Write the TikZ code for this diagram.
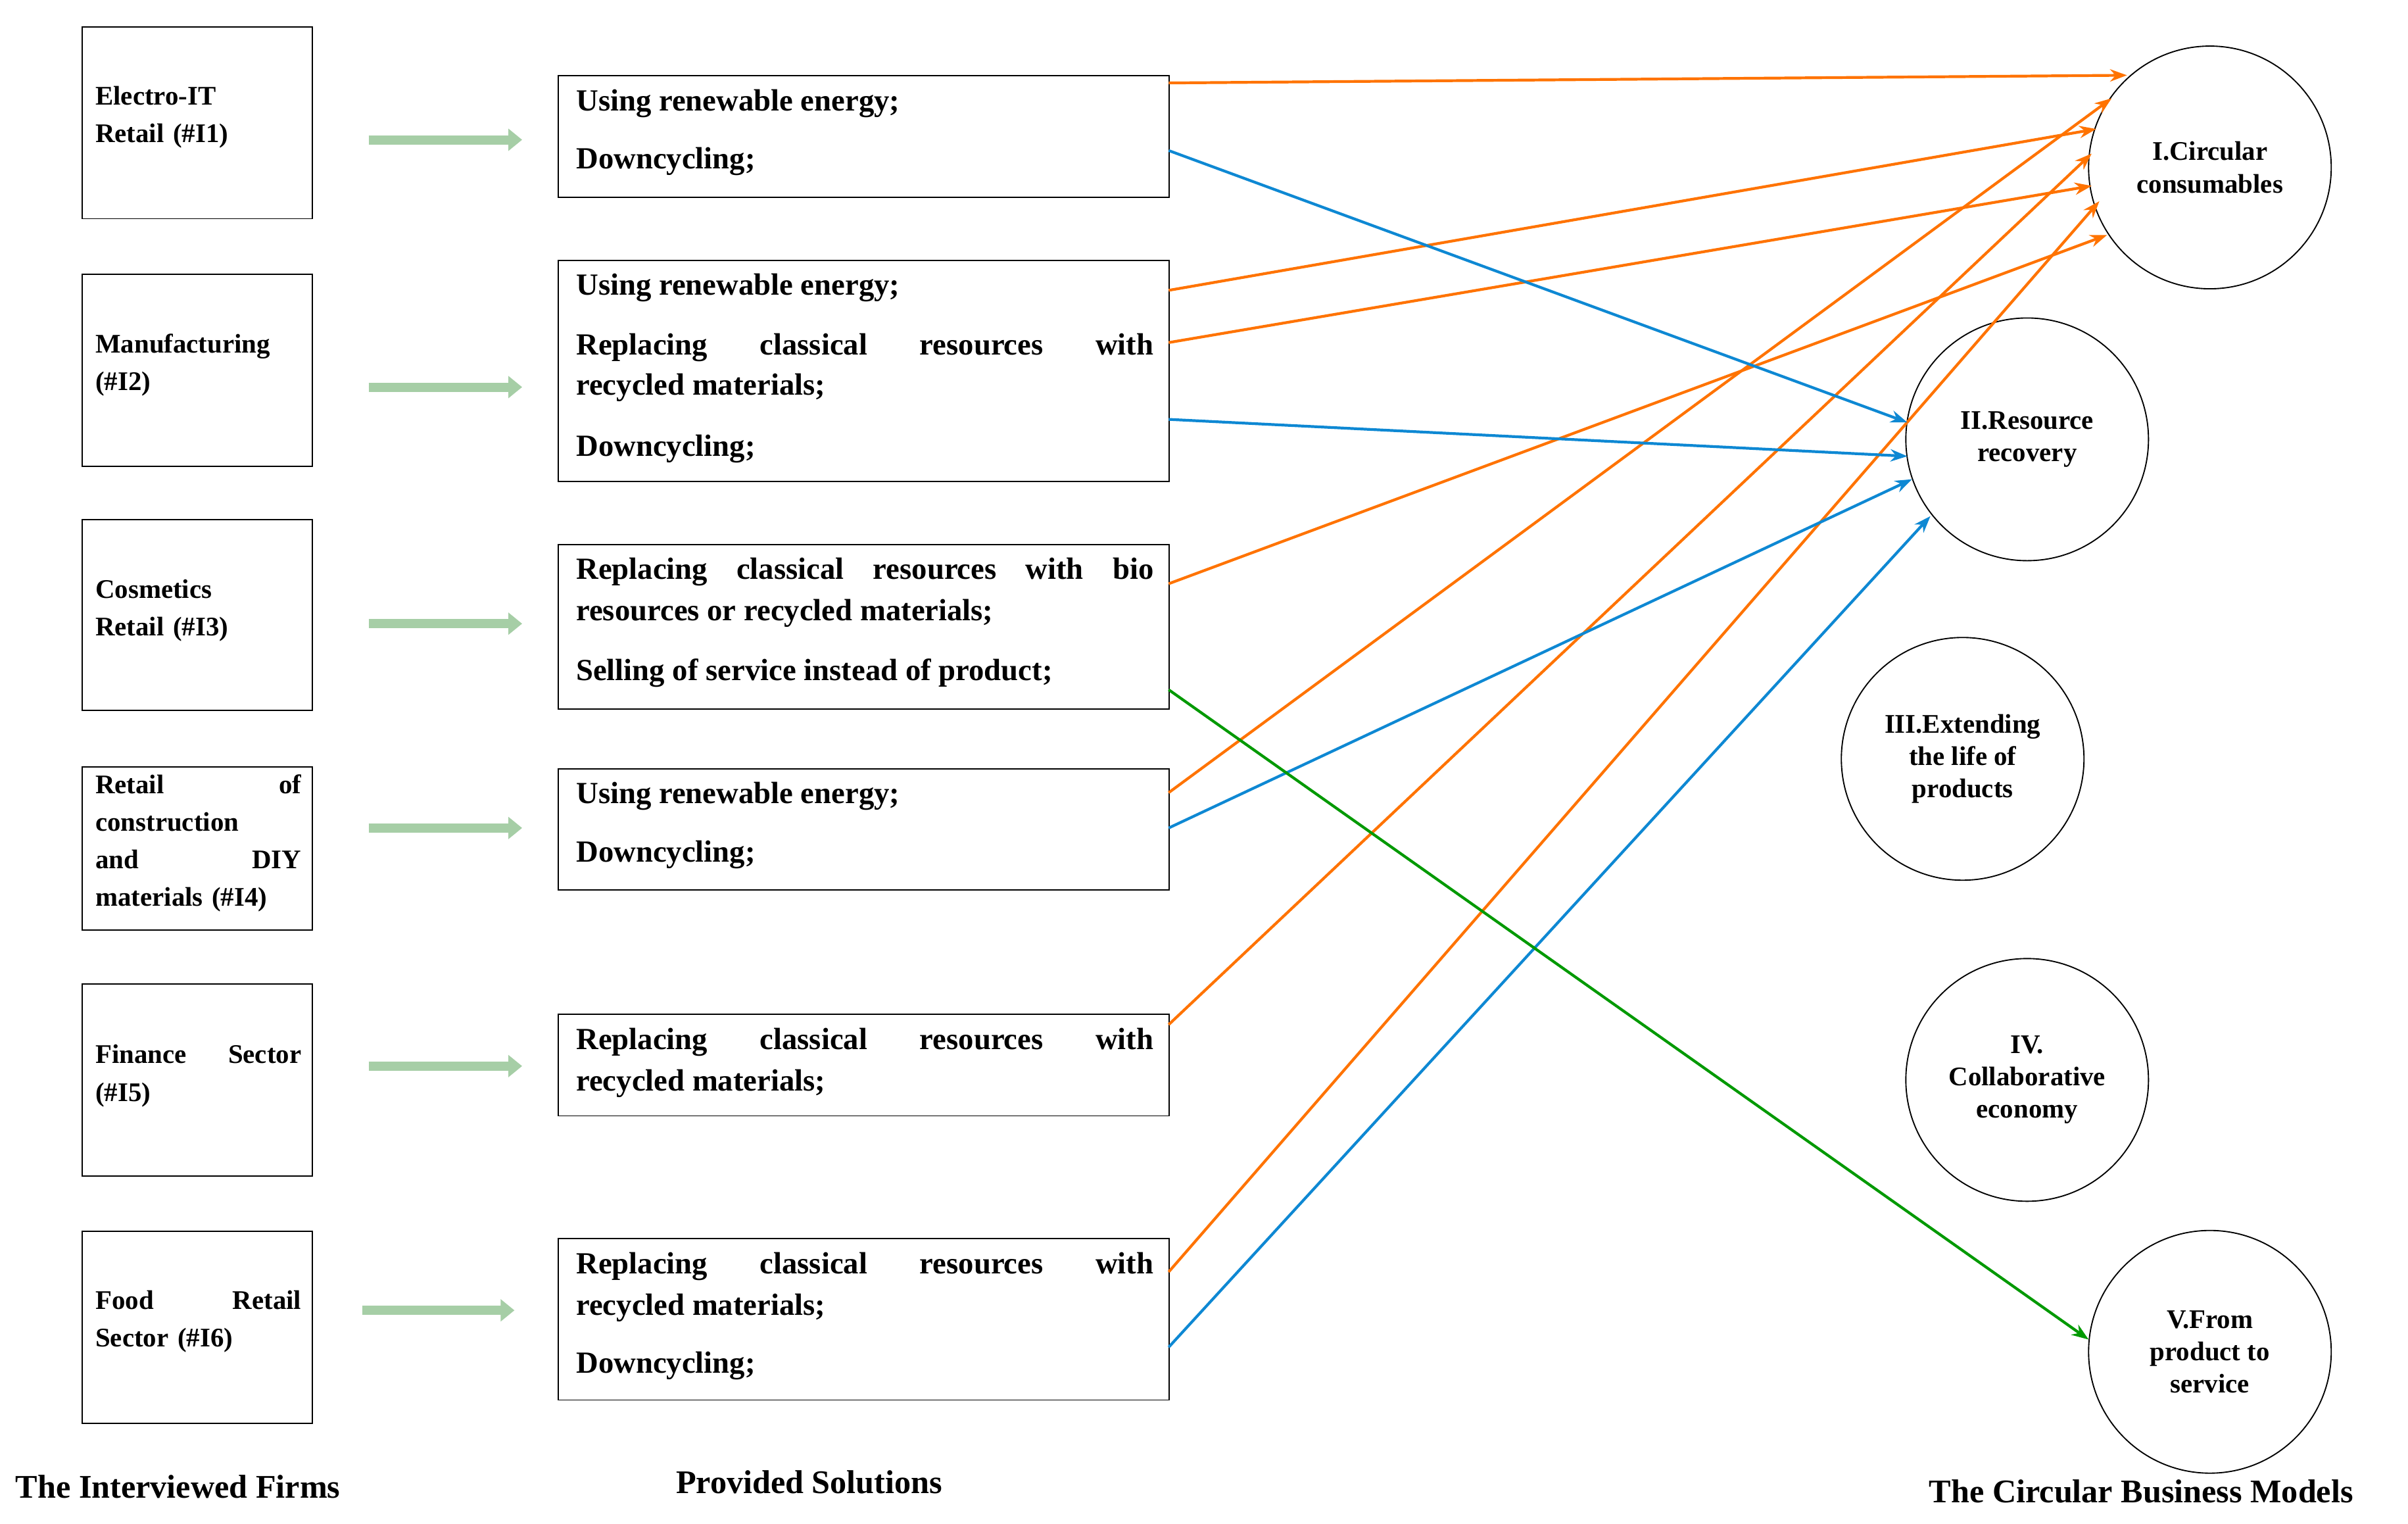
\documentclass[tikz,border=0pt]{standalone}
\usepackage{fontspec}
\setmainfont{Liberation Serif}
\usetikzlibrary{arrows.meta,calc}
\begin{document}
\begin{tikzpicture}[x=1pt,y=-1pt,
  firm/.style={draw,line width=0.8pt,minimum width=150pt,anchor=north west,inner sep=0pt},
  sol/.style={draw,line width=0.8pt,minimum width=398pt,anchor=north west,inner sep=0pt},
  ln/.style={anchor=base west,inner sep=0pt,font=\fontsize{20}{24}\selectfont\bfseries},
  ft/.style={anchor=north west,inner sep=0pt,text width=134pt,align=left,font=\fontsize{17.5}{24.5}\selectfont\bfseries},
  cbm/.style={draw,circle,line width=0.8pt,minimum size=158pt,align=center,font=\fontsize{17.5}{21}\selectfont\bfseries},
  garr/.style={-{Triangle[length=9pt,width=14pt]},line width=6pt,draw=green!45!black!35,fill=green!45!black!35},
  oa/.style={-{Stealth[length=11pt,width=8pt]},line width=1.8pt,draw=orange!90!red},
  ba/.style={-{Stealth[length=11pt,width=8pt]},line width=1.8pt,draw=cyan!70!blue},
  gca/.style={-{Stealth[length=11pt,width=8pt]},line width=1.8pt,draw=green!60!black},
  lab/.style={anchor=base west,inner sep=0pt,font=\fontsize{21.5}{24}\selectfont\bfseries}]
\useasboundingbox[fill=white] (0,0) rectangle (1568,992);
% firms
\node[firm,minimum height=125pt] (f1) at (53,17) {};
\node[firm,minimum height=125pt] (f2) at (53,178) {};
\node[firm,minimum height=124pt] (f3) at (53,338) {};
\node[firm,minimum height=106pt] (f4) at (53,499) {};
\node[firm,minimum height=125pt] (f5) at (53,640) {};
\node[firm,minimum height=125pt] (f6) at (53,801) {};
\node[ft] at (62,56) {Electro-IT\\Retail (\#I1)};
\node[ft] at (62,217) {Manufacturing\\(\#I2)};
\node[ft] at (62,377) {Cosmetics\\Retail (\#I3)};
\node[ft] at (62,504) {Retail \hfill of\\construction\\and \hfill DIY\\materials (\#I4)};
\node[ft] at (62,680) {Finance \hfill Sector\\(\#I5)};
\node[ft] at (62,840) {Food \hfill Retail\\Sector (\#I6)};
% green arrows
\foreach \y/\xa/\xb [count=\i] in {91/240/340,252/240/340,406/240/340,539/240/340,694/240/340,853/236/335}{
  \coordinate (ga\i) at (\xa,\y); \coordinate (gb\i) at (\xb,\y);
  \draw[garr] (ga\i) -- (gb\i);}
% solutions
\node[sol,minimum height=79pt] (m1) at (363,49) {};
\node[sol,minimum height=144pt] (m2) at (363,169) {};
\node[sol,minimum height=107pt] (m3) at (363,354) {};
\node[sol,minimum height=79pt] (m4) at (363,500) {};
\node[sol,minimum height=66pt] (m5) at (363,660) {};
\node[sol,minimum height=105pt] (m6) at (363,806) {};
\newcommand{\jl}[2]{\node[ln] at (375,#1) {\makebox[376pt][s]{#2}};}
\newcommand{\pl}[2]{\node[ln] at (375,#1) {#2};}
\pl{72}{Using renewable energy;}
\pl{110}{Downcycling;}
\pl{192}{Using renewable energy;}
\jl{231}{Replacing classical resources with}
\pl{257}{recycled materials;}
\pl{297}{Downcycling;}
\jl{377}{Replacing classical resources with bio}
\pl{404}{resources or recycled materials;}
\pl{443}{Selling of service instead of product;}
\pl{523}{Using renewable energy;}
\pl{561}{Downcycling;}
\jl{683}{Replacing classical resources with}
\pl{710}{recycled materials;}
\jl{829}{Replacing classical resources with}
\pl{856}{recycled materials;}
\pl{894}{Downcycling;}
% circles
\node[cbm] (c1) at (1439,109) {I.Circular\\consumables};
\node[cbm] (c2) at (1320,286) {II.Resource\\recovery};
\node[cbm] (c3) at (1278,494) {III.Extending\\the life of\\products};
\node[cbm] (c4) at (1320,703) {IV.\\Collaborative\\economy};
\node[cbm] (c5) at (1439,880) {V.From\\product to\\service};
% connector endpoints
\coordinate (o1s) at (761,54);  \coordinate (o1e) at (1385,49);
\coordinate (o2s) at (761,189); \coordinate (o2e) at (1365,84);
\coordinate (o3s) at (761,223); \coordinate (o3e) at (1362,121);
\coordinate (o4s) at (761,380); \coordinate (o4e) at (1372,153);
\coordinate (o5s) at (761,516); \coordinate (o5e) at (1375,64);
\coordinate (o6s) at (761,667); \coordinate (o6e) at (1362,100);
\coordinate (o7s) at (761,828); \coordinate (o7e) at (1367,131);
\coordinate (b1s) at (761,98);  \coordinate (b1e) at (1242,275);
\coordinate (b2s) at (761,273); \coordinate (b2e) at (1242,297);
\coordinate (b3s) at (761,539); \coordinate (b3e) at (1245,312);
\coordinate (b4s) at (761,877); \coordinate (b4e) at (1257,336);
\coordinate (g1s) at (761,449); \coordinate (g1e) at (1360,872);
\foreach \i in {1,...,7}{\draw[oa] (o\i s) -- (o\i e);}
\foreach \i in {1,...,4}{\draw[ba] (b\i s) -- (b\i e);}
\draw[gca] (g1s) -- (g1e);
% labels
\node[lab] at (10,975) {The Interviewed Firms};
\node[lab] at (440,972) {Provided Solutions};
\node[lab] at (1256,978) {The Circular Business Models};
\end{tikzpicture}
\end{document}
